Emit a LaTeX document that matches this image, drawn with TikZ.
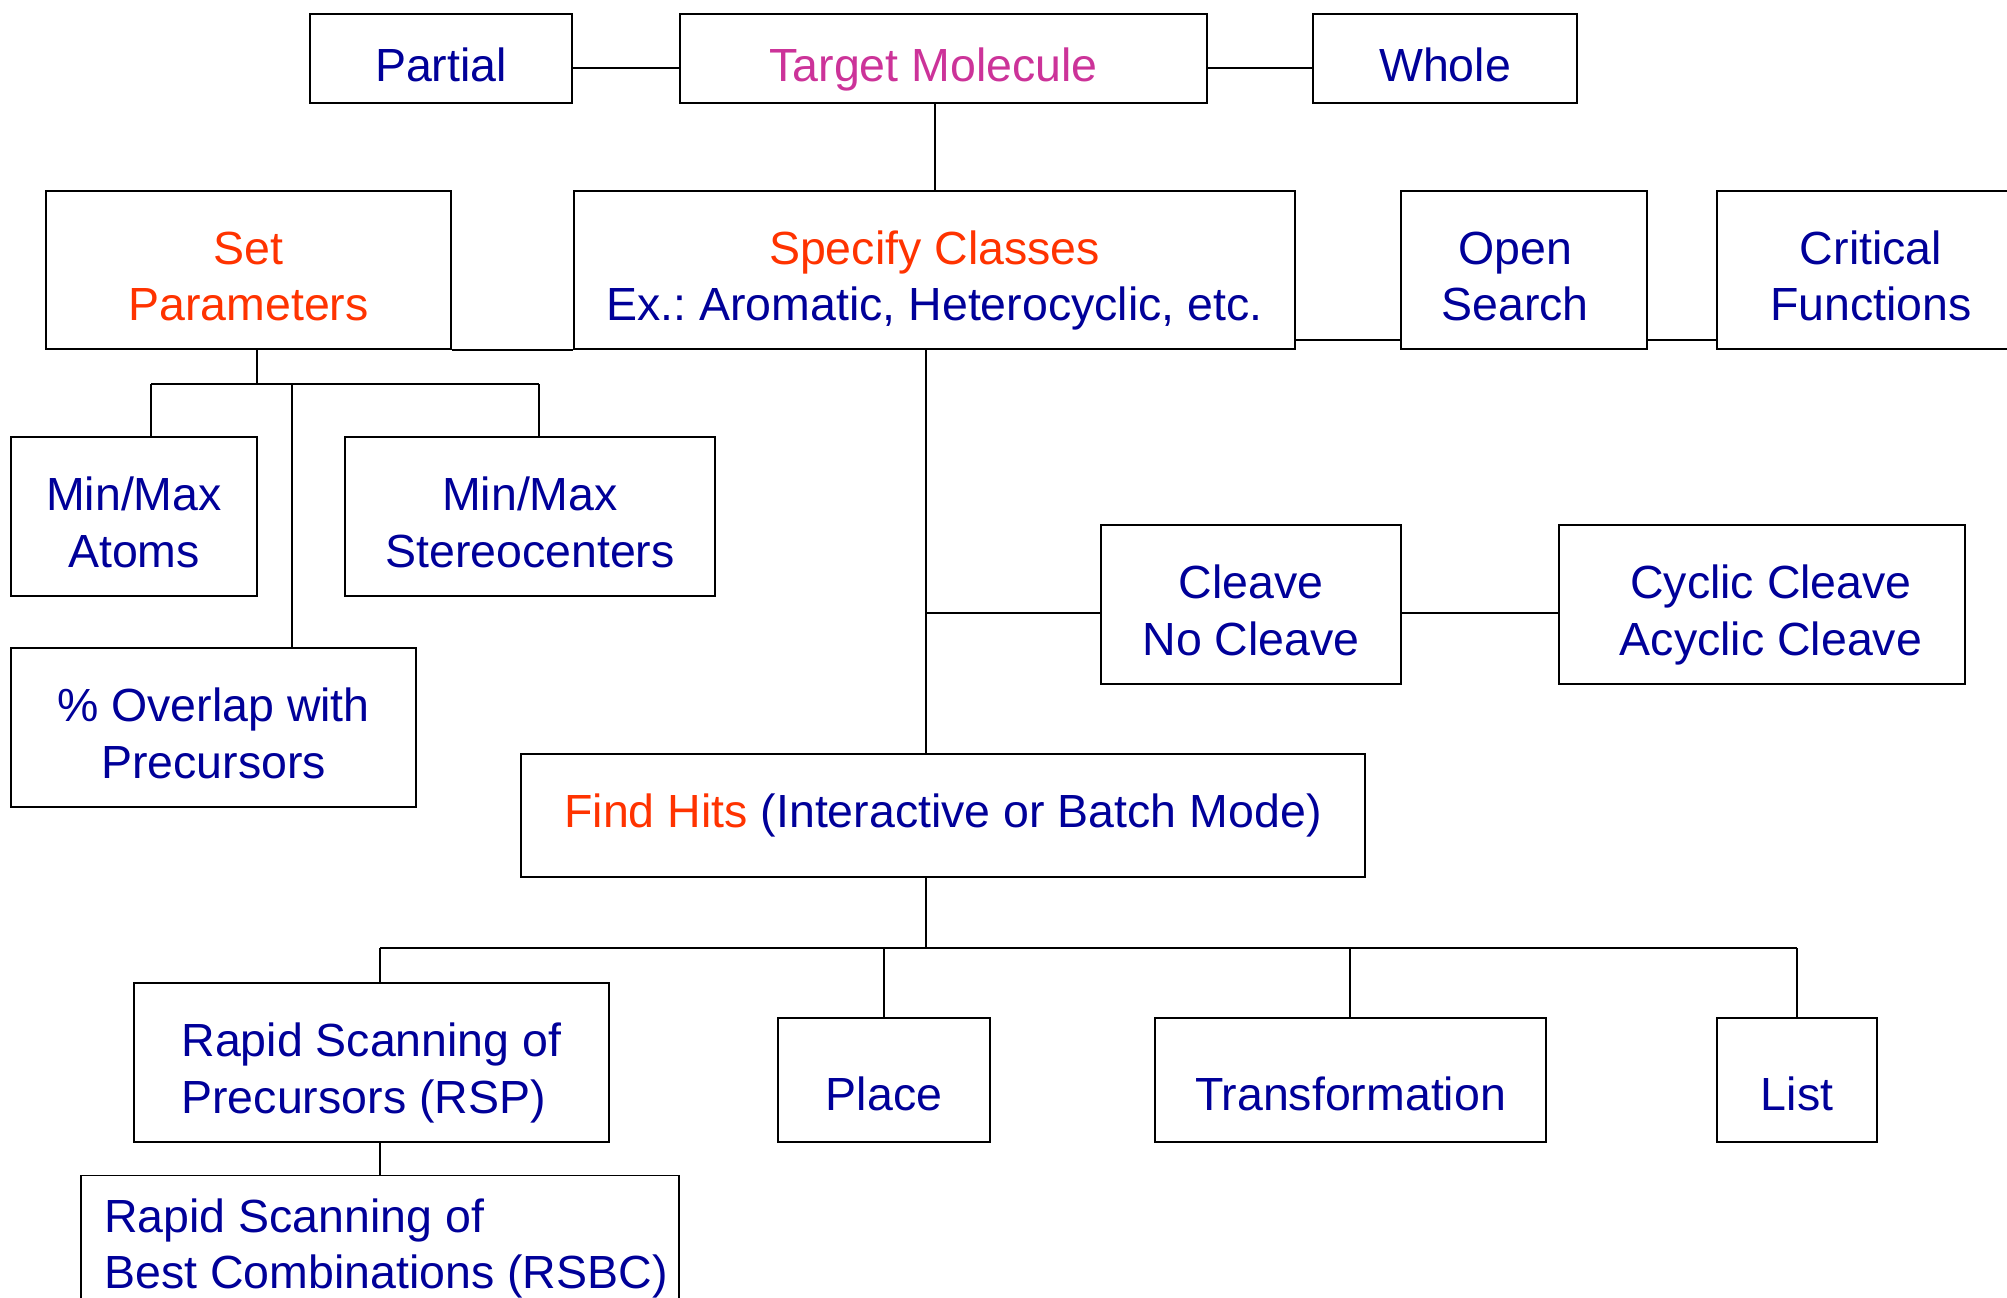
\documentclass[tikz,border=0pt]{standalone}
\usepackage{fontspec}
\setmainfont{Liberation Sans}
\frenchspacing
\definecolor{navy}{RGB}{0,0,153}
\definecolor{hot}{RGB}{255,51,0}
\definecolor{mag}{RGB}{204,51,153}
\newcommand\fstrut{\rule{0pt}{28.25pt}}
\newcommand\lstrut{\rule[-6pt]{0pt}{6pt}}
\begin{document}
\begin{tikzpicture}[x=0.5pt,y=-0.5pt,
  box/.style={draw=black, line width=0.9pt, inner sep=0pt, align=center,
    text=navy, font=\fontsize{23.25pt}{28.25pt}\selectfont\frenchspacing},
  topline/.style={text height=22.5pt, text depth=0pt},
  findline/.style={text height=12pt, text depth=0pt},
  lowtext/.style={text height=30pt, text depth=0pt},
  conn/.style={draw=black, line width=0.9pt}]
\useasboundingbox (0,0) rectangle (2007,1297);
\clip (0,0) rectangle (2007,1297);
\fill[white] (0,0) rectangle (2007,1297);
% top row
\node[box, topline, minimum width=131pt, minimum height=44.5pt] (partial) at (441,58.5) {Partial};
\node[box, topline, minimum width=263.5pt, minimum height=44.5pt, text=mag] (target) at (943.5,58.5) {Target Molecule\hspace*{10pt}};
\node[box, topline, minimum width=132pt, minimum height=44.5pt] (whole) at (1445,58.5) {Whole};
% second row
\node[box, minimum width=202.5pt, minimum height=79pt, text=hot] (setp) at (248.5,270) {\fstrut Set\\Parameters\lstrut};
\node[box, minimum width=360.5pt, minimum height=79pt] (spec) at (934.5,270) {\fstrut{\color{hot}Specify Classes}\\Ex.: Aromatic, Heterocyclic, etc.\lstrut};
\node[box, minimum width=123pt, minimum height=79pt] (open) at (1524,270) {\fstrut Open\hspace*{9pt}\\Search\hspace*{9pt}\lstrut};
\node[box, minimum width=154pt, minimum height=79pt] (crit) at (1871,270) {\fstrut Critical\\Functions\lstrut};
% parameter children
\node[box, minimum width=123pt, minimum height=79.5pt] (atoms) at (134,516.5) {\fstrut Min/Max\\Atoms\lstrut};
\node[box, minimum width=185pt, minimum height=79.5pt] (stereo) at (530,516.5) {\fstrut Min/Max\\Stereocenters\lstrut};
\node[box, minimum width=202.5pt, minimum height=79.5pt] (overlap) at (213.5,727.5) {\fstrut\% Overlap with\\Precursors\lstrut};
% cleave
\node[box, minimum width=150pt, minimum height=79.5pt] (cleave) at (1251,604.5) {\fstrut Cleave\\No Cleave\lstrut};
\node[box, minimum width=203pt, minimum height=79.5pt] (cyclic) at (1762,604.5) {\fstrut\hspace*{9pt}Cyclic Cleave\\\hspace*{9pt}Acyclic Cleave\lstrut};
% find hits
\node[box, findline, minimum width=422pt, minimum height=61.5pt] (find) at (943,815.5) {{\color{hot}Find Hits} (Interactive or Batch Mode)};
% bottom row
\node[box, minimum width=237.5pt, minimum height=79.5pt, align=left] (rsp) at (371.5,1062.5) {\fstrut Rapid Scanning of\\Precursors (RSP)\lstrut};
\node[box, lowtext, minimum width=106pt, minimum height=62pt] (place) at (884,1080) {Place};
\node[box, lowtext, minimum width=195.5pt, minimum height=62pt] (trans) at (1350.5,1080) {Transformation};
\node[box, lowtext, minimum width=80pt, minimum height=62pt] (list) at (1797,1080) {List};
\node[box, minimum width=299pt, minimum height=61pt, align=left] (rsbc) at (380,1238) {\fstrut\hspace*{6pt}Rapid Scanning of\\\hspace*{6pt}Best Combinations (RSBC)\lstrut};
% junction coordinates
\coordinate (ytop) at (0,68);
\coordinate (yside) at (0,340);
\coordinate (jt) at (935,0);
\coordinate (jtr) at (1350,0);
\coordinate (sj) at (257,384);
\coordinate (ja) at (151,384);
\coordinate (js) at (539,384);
\coordinate (jo) at (292,384);
\coordinate (jc) at (926,613);
\coordinate (jf) at (926,948);
\coordinate (jr) at (380,948);
\coordinate (jl) at (1797,948);
% connectors
\draw[conn] (partial.east |- ytop) -- (target.west |- ytop);
\draw[conn] (target.east |- ytop) -- (whole.west |- ytop);
\draw[conn] (jt |- target.south) -- (jt |- spec.north);
\draw[conn] (setp.south east) -- (spec.south west);
\draw[conn] (spec.east |- yside) -- (open.west |- yside);
\draw[conn] (open.east |- yside) -- (crit.west |- yside);
\draw[conn] (sj |- setp.south) -- (sj);
\draw[conn] (ja) -- (js);
\draw[conn] (ja) -- (ja |- atoms.north);
\draw[conn] (js) -- (js |- stereo.north);
\draw[conn] (jo) -- (jo |- overlap.north);
\draw[conn] (jc |- spec.south) -- (jc |- find.north);
\draw[conn] (jc) -- (cleave.west |- jc);
\draw[conn] (cleave.east |- jc) -- (cyclic.west |- jc);
\draw[conn] (jf |- find.south) -- (jf);
\draw[conn] (jr) -- (jl);
\draw[conn] (jr) -- (jr |- rsp.north);
\draw[conn] (place.north |- jr) -- (place.north);
\draw[conn] (jtr |- jr) -- (jtr |- trans.north);
\draw[conn] (jl) -- (list.north);
\draw[conn] (jr |- rsp.south) -- (jr |- rsbc.north);
\end{tikzpicture}
\end{document}
